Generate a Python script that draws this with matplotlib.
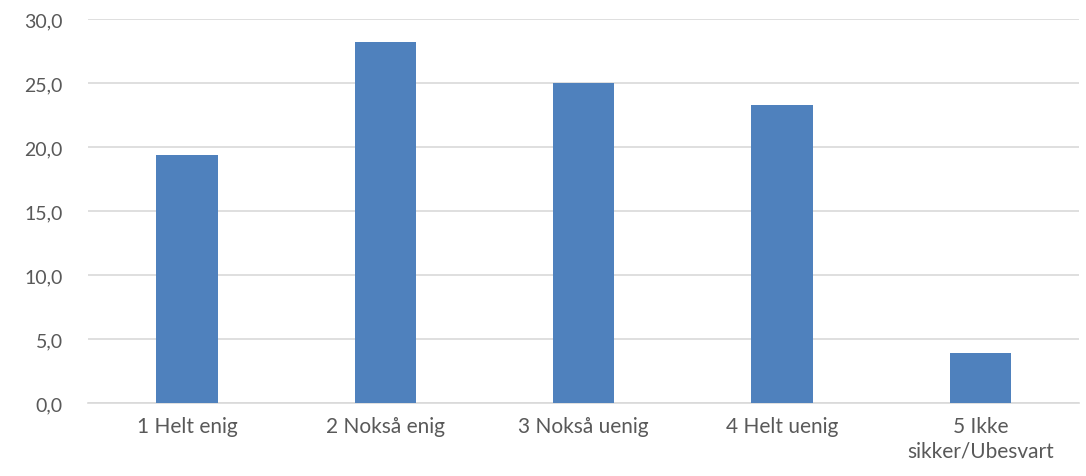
import matplotlib.pyplot as plt
from matplotlib.ticker import FuncFormatter

# Data
categories = ["1 Helt enig", "2 Nokså enig", "3 Nokså uenig", "4 Helt uenig", "5 Ikke\nsikker/Ubesvart"]
values = [19.4, 28.2, 25.0, 23.3, 3.9]

plt.rcParams["font.family"] = ["Lato", "DejaVu Sans"]

fig = plt.figure(figsize=(10.86, 4.77), dpi=100)
ax = fig.add_axes([0.081, 0.153, 0.913, 0.805])

x = range(len(categories))
ax.bar(x, values, width=0.31, color="#4F81BD", zorder=3)

ax.set_xlim(-0.5, len(categories) - 0.5)
ax.set_ylim(0, 30)
ax.set_yticks(range(0, 31, 5))
ax.yaxis.set_major_formatter(FuncFormatter(lambda v, p: f"{v:.1f}".replace(".", ",")))
ax.set_xticks(list(x))
ax.set_xticklabels(categories, linespacing=1.3)

ax.grid(axis="y", color="#D9D9D9", linewidth=1.2, zorder=0)
for s in ["top", "right", "left"]:
    ax.spines[s].set_visible(False)
ax.spines["bottom"].set_color("#D9D9D9")
ax.spines["bottom"].set_linewidth(1.2)
ax.tick_params(axis="both", length=0, colors="#595959")
ax.tick_params(axis="x", labelsize=15, pad=9)
ax.tick_params(axis="y", labelsize=14, pad=18)

fig.savefig("out.png", dpi=100)
